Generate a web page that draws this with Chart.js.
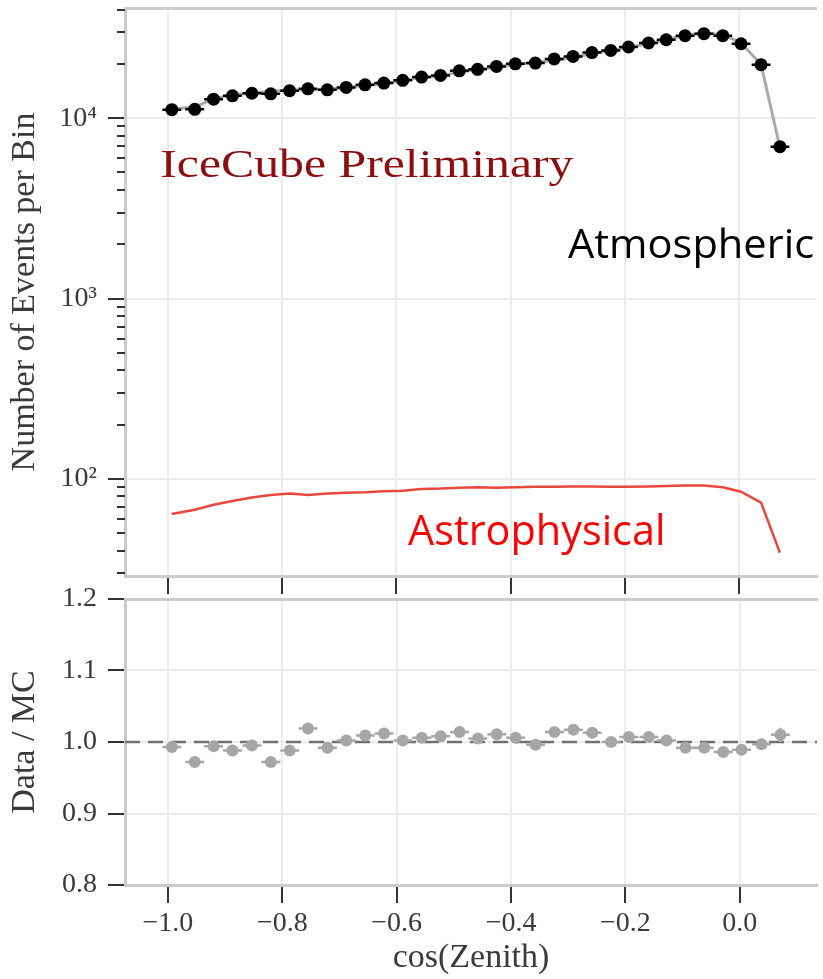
<!DOCTYPE html>
<html>
<head>
<meta charset="utf-8">
<script src="https://cdn.jsdelivr.net/npm/chart.js@4/dist/chart.umd.min.js"></script>
<style>
  html, body { margin: 0; padding: 0; background: #fff; }
  #wrap { position: relative; width: 823px; height: 979px; overflow: hidden; background: #fff; }
  canvas { position: absolute; left: 0; }
  #countsCanvas { top: 0; }
  #ratioCanvas { top: 570px; }
</style>
</head>
<body>
<div id="wrap">
  <canvas id="countsCanvas" width="823" height="599"></canvas>
  <canvas id="ratioCanvas" width="823" height="409"></canvas>
</div>
<script>
// cos(zenith) bin centres
const binCenters = [-0.993, -0.953, -0.920, -0.887, -0.853, -0.820, -0.787, -0.755, -0.721, -0.688,
                    -0.655, -0.622, -0.589, -0.556, -0.523, -0.490, -0.458, -0.425, -0.392, -0.357,
                    -0.324, -0.291, -0.258, -0.225, -0.194, -0.159, -0.128, -0.095, -0.062, -0.029,
                     0.003,  0.038,  0.071];
const binHalfWidth = 0.0165;

// observed events per bin
const dataCounts = [11150, 11200, 12750, 13300, 13750, 13650, 14200, 14550, 14350, 14800,
                    15300, 15650, 16200, 16900, 17250, 18300, 18650, 19350, 20000, 20200,
                    21300, 22000, 23100, 23750, 24800, 26100, 27200, 28650, 29400, 28650,
                    25850, 19800, 6950];

// atmospheric expectation (MC)
const mcCounts = [11230, 11520, 12830, 13460, 13820, 14040, 14370, 14280, 14470, 14770,
                  15160, 15460, 16170, 16800, 17110, 18050, 18560, 19140, 19880, 20280,
                  21010, 21630, 22800, 23750, 24630, 25920, 27150, 28880, 29640, 29060,
                  26140, 19860, 6880];

// astrophysical expectation
const astroCounts = [64, 67.5, 72, 75.5, 79, 81.5, 83, 81.5, 83, 84,
                     84.5, 85.5, 86, 88, 88.5, 89.5, 90, 89.5, 90, 90.5,
                     90.5, 91, 91, 90.5, 90.5, 91, 91.5, 92, 92, 90,
                     85, 74, 39];

// data / MC ratio and its uncertainty
const ratioValues = [0.993, 0.972, 0.994, 0.988, 0.995, 0.972, 0.988, 1.019, 0.992, 1.002,
                     1.009, 1.012, 1.002, 1.006, 1.008, 1.014, 1.005, 1.011, 1.006, 0.996,
                     1.014, 1.017, 1.013, 1.000, 1.007, 1.007, 1.002, 0.992, 0.992, 0.986,
                     0.989, 0.997, 1.010];
const ratioErrors = [0.003, 0.003, 0.003, 0.003, 0.003, 0.003, 0.003, 0.003, 0.003, 0.003,
                     0.003, 0.003, 0.003, 0.003, 0.003, 0.003, 0.003, 0.003, 0.003, 0.003,
                     0.003, 0.003, 0.003, 0.003, 0.003, 0.003, 0.003, 0.003, 0.003, 0.004,
                     0.004, 0.005, 0.010];
const referenceRatio = 1.0;

// axes
const xRange = [-1.075, 0.135];
const xTicks = [-1.0, -0.8, -0.6, -0.4, -0.2, 0.0];
const countRange = [29, 40800];
const countTicks = [100, 1000, 10000];
const countTickLabels = ['10²', '10³', '10⁴'];
const countMinorTicks = [30, 40, 50, 60, 70, 80, 90,
                         200, 300, 400, 500, 600, 700, 800, 900,
                         2000, 3000, 4000, 5000, 6000, 7000, 8000, 9000,
                         20000, 30000, 40000];
const ratioRange = [0.8, 1.2];
const ratioTicks = [0.8, 0.9, 1.0, 1.1, 1.2];

const SERIF = '"Liberation Serif", "DejaVu Serif", serif';
const SANS = '"Open Sans", "Liberation Sans", sans-serif';
const AXIS_COLOR = '#cbcbcb';
const GRID_COLOR = '#ececec';
const TICK_COLOR = '#333333';
const TEXT_COLOR = '#3a3a3a';

Chart.defaults.font.family = SERIF;
Chart.defaults.plugins.legend.display = false;
Chart.defaults.plugins.tooltip.enabled = false;

const toPoints = (xs, ys) => xs.map((x, i) => ({ x: x, y: ys[i] }));

// fixed axis box sizes, no extra room reserved for edge labels
function fixSize(prop, size) {
  return s => {
    s[prop] = size;
    s.paddingTop = 0; s.paddingBottom = 0; s.paddingLeft = 0; s.paddingRight = 0;
  };
}

// horizontal (bin width) and vertical error bars, drawn just before their dataset
const errorBars = {
  id: 'errorBars',
  beforeDatasetDraw(chart, args) {
    const ds = chart.data.datasets[args.index];
    if (ds.xErr === undefined) return;
    const xs = chart.scales.x, ys = chart.scales.y, ctx = chart.ctx, area = chart.chartArea;
    ctx.save();
    ctx.beginPath();
    ctx.rect(area.left, area.top, area.right - area.left, area.bottom - area.top);
    ctx.clip();
    ctx.strokeStyle = ds.errColor;
    ctx.lineWidth = ds.errWidth;
    ctx.beginPath();
    ds.data.forEach((p, i) => {
      const py = ys.getPixelForValue(p.y);
      ctx.moveTo(xs.getPixelForValue(p.x - ds.xErr), py);
      ctx.lineTo(xs.getPixelForValue(p.x + ds.xErr), py);
      if (ds.yErr) {
        const px = xs.getPixelForValue(p.x);
        ctx.moveTo(px, ys.getPixelForValue(p.y - ds.yErr[i]));
        ctx.lineTo(px, ys.getPixelForValue(p.y + ds.yErr[i]));
      }
    });
    ctx.stroke();
    ctx.restore();
  }
};

// short minor tick marks on the logarithmic axis
const minorTicks = {
  id: 'minorTicks',
  afterDraw(chart, args, opts) {
    if (!opts.values) return;
    const s = chart.scales.y, ctx = chart.ctx;
    ctx.save();
    ctx.strokeStyle = opts.color;
    ctx.lineWidth = 2;
    ctx.beginPath();
    opts.values.forEach(v => {
      const y = Math.round(s.getPixelForValue(v));
      ctx.moveTo(s.right - opts.length, y);
      ctx.lineTo(s.right, y);
    });
    ctx.stroke();
    ctx.restore();
  }
};

// free text labels inside the plot
function drawFitted(ctx, t) {
  ctx.save();
  ctx.font = '100px ' + t.family;
  const capRatio = ctx.measureText('H').actualBoundingBoxAscent / 100;
  const size = t.cap / capRatio;
  ctx.font = size + 'px ' + t.family;
  const m = ctx.measureText(t.text);
  const ink = m.actualBoundingBoxLeft + m.actualBoundingBoxRight;
  const sx = t.width / ink;
  ctx.translate(t.x, t.baseline);
  ctx.scale(sx, 1);
  ctx.fillStyle = t.color;
  ctx.textBaseline = 'alphabetic';
  ctx.textAlign = 'left';
  ctx.fillText(t.text, m.actualBoundingBoxLeft, 0);
  ctx.restore();
}
const textLabels = {
  id: 'textLabels',
  afterDatasetsDraw(chart, args, opts) {
    (opts.items || []).forEach(t => drawFitted(chart.ctx, t));
  }
};

function xAxis(height, showLabels) {
  return {
    type: 'linear', position: 'bottom', min: xRange[0], max: xRange[1],
    afterBuildTicks: s => { s.ticks = xTicks.map(v => ({ value: v })); },
    afterFit: fixSize('height', height),
    ticks: {
      display: showLabels, autoSkip: false, maxRotation: 0, padding: 4,
      color: TEXT_COLOR, font: { family: SERIF, size: 28 },
      callback: v => (v < 0 ? '\u2212' : '') + Math.abs(v).toFixed(1)
    },
    grid: { color: GRID_COLOR, lineWidth: 2, tickColor: TICK_COLOR, tickWidth: 2, tickLength: 18 },
    border: { color: AXIS_COLOR, width: 3 }
  };
}
function topFrame(height) {
  return {
    type: 'linear', position: 'top', min: xRange[0], max: xRange[1],
    afterFit: fixSize('height', height),
    ticks: { display: false },
    grid: { display: false },
    border: { color: AXIS_COLOR, width: 3 }
  };
}

// upper panel: event counts
new Chart(document.getElementById('countsCanvas'), {
  type: 'scatter',
  data: {
    datasets: [
      {
        label: 'Data', data: toPoints(binCenters, dataCounts), order: 0,
        pointRadius: 6.5, pointBorderWidth: 0, backgroundColor: '#000', showLine: false,
        xErr: binHalfWidth, errColor: '#000', errWidth: 2.5
      },
      {
        label: 'Atmospheric', data: toPoints(binCenters, mcCounts), order: 1,
        showLine: true, pointRadius: 0, borderColor: '#aca8b2', borderWidth: 3, tension: 0
      },
      {
        label: 'Astrophysical', data: toPoints(binCenters, astroCounts), order: 2,
        showLine: true, pointRadius: 0, borderColor: '#e8473d', borderWidth: 2.5, tension: 0
      }
    ]
  },
  options: {
    responsive: false, animation: false, devicePixelRatio: 1,
    layout: { padding: 0 },
    scales: {
      x: xAxis(23, false),
      xFrame: topFrame(8),
      y: {
        type: 'logarithmic', min: countRange[0], max: countRange[1],
        afterBuildTicks: s => { s.ticks = countTicks.map(v => ({ value: v })); },
        afterFit: fixSize('width', 125),
        ticks: {
          autoSkip: false, padding: 11, color: TEXT_COLOR, font: { family: SERIF, size: 28 },
          callback: v => { const i = countTicks.indexOf(v); return i >= 0 ? countTickLabels[i] : ''; }
        },
        grid: { color: GRID_COLOR, lineWidth: 2, tickColor: TICK_COLOR, tickWidth: 2, tickLength: 17 },
        border: { color: AXIS_COLOR, width: 3 },
        title: {
          display: true, text: 'Number of Events per Bin', color: TEXT_COLOR,
          font: { family: SERIF, size: 34 }, padding: { top: 5, bottom: 0 }
        }
      }
    },
    plugins: {
      minorTicks: { values: countMinorTicks, length: 8, color: TICK_COLOR },
      textLabels: {
        items: [
          { text: 'IceCube Preliminary', family: SERIF, cap: 26, x: 161.5, baseline: 177, width: 412, color: '#8c0f0f' },
          { text: 'Atmospheric', family: SANS, cap: 29, x: 568, baseline: 258, width: 245, color: '#000000' },
          { text: 'Astrophysical', family: SANS, cap: 30, x: 408, baseline: 545, width: 254, color: '#ff0000' }
        ]
      }
    }
  },
  plugins: [errorBars, minorTicks, textLabels]
});

// lower panel: data / MC
new Chart(document.getElementById('ratioCanvas'), {
  type: 'scatter',
  data: {
    datasets: [
      {
        label: 'Data / MC', data: toPoints(binCenters, ratioValues), order: 0,
        pointRadius: 6, pointBorderWidth: 0, backgroundColor: '#a6a6a6', showLine: false,
        xErr: binHalfWidth, yErr: ratioErrors, errColor: '#a6a6a6', errWidth: 2.5
      },
      {
        label: 'Unity', data: [{ x: xRange[0], y: referenceRatio }, { x: xRange[1], y: referenceRatio }], order: 1,
        showLine: true, pointRadius: 0, borderColor: '#707070', borderWidth: 2.5, borderDash: [15, 8]
      }
    ]
  },
  options: {
    responsive: false, animation: false, devicePixelRatio: 1,
    layout: { padding: 0 },
    scales: {
      x: Object.assign(xAxis(94, true), {
        title: {
          display: true, text: 'cos(Zenith)', color: TEXT_COLOR,
          font: { family: SERIF, size: 34 }, padding: { top: 0, bottom: 1 }
        }
      }),
      xFrame: topFrame(29),
      y: {
        type: 'linear', min: ratioRange[0], max: ratioRange[1],
        afterBuildTicks: s => { s.ticks = ratioTicks.map(v => ({ value: v })); },
        afterFit: fixSize('width', 125),
        ticks: {
          autoSkip: false, padding: 11, color: TEXT_COLOR, font: { family: SERIF, size: 28 },
          callback: v => v.toFixed(1)
        },
        grid: { color: GRID_COLOR, lineWidth: 2, tickColor: TICK_COLOR, tickWidth: 2, tickLength: 17 },
        border: { color: AXIS_COLOR, width: 3 },
        title: {
          display: true, text: 'Data / MC', color: TEXT_COLOR,
          font: { family: SERIF, size: 34 }, padding: { top: 5, bottom: 0 }
        }
      }
    }
  },
  plugins: [errorBars]
});
</script>
</body>
</html>
